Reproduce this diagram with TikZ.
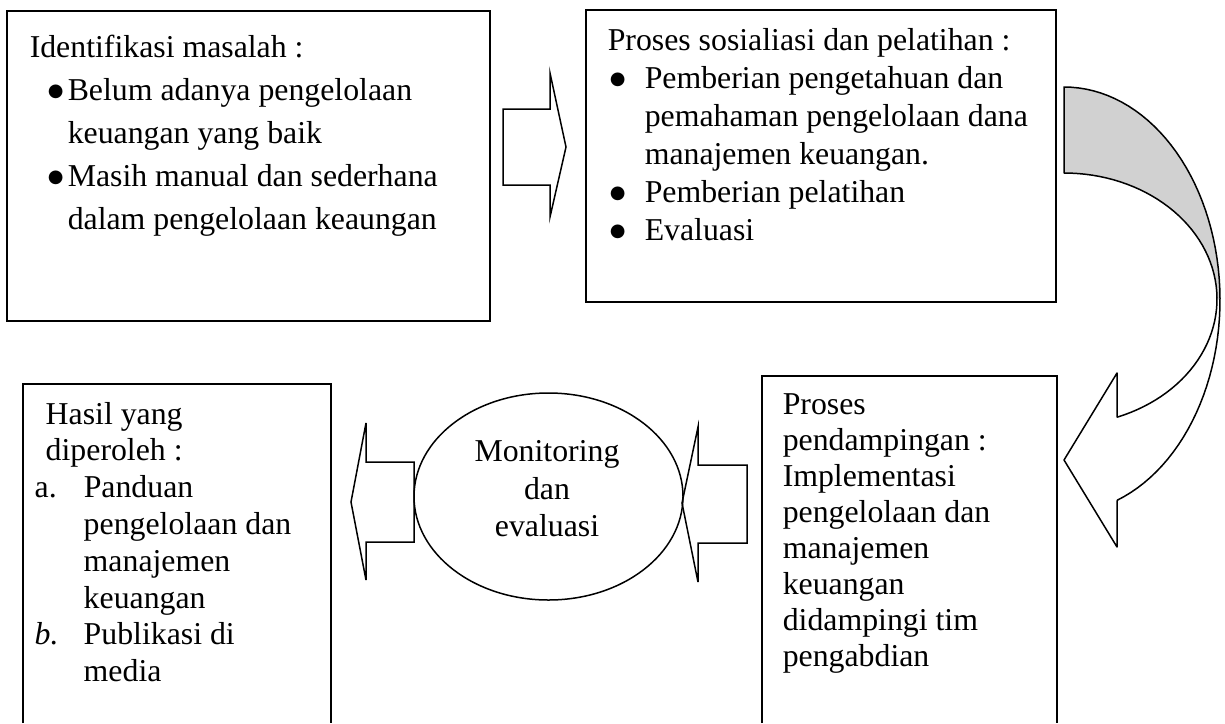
\documentclass[tikz,border=0pt]{standalone}
\usepackage{fontspec}
\setmainfont{Liberation Serif}
\newfontfamily\symbolfamily{DejaVu Sans}
\usetikzlibrary{shapes.geometric}
\definecolor{bandgray}{gray}{0.82}
\newcommand\dotmark{\raisebox{1.8pt}{\symbolfamily\fontsize{9pt}{9pt}\selectfont ●}}

\begin{document}
\begin{tikzpicture}[x=0.5pt, y=-0.5pt, line width=0.75pt,
  boxtext/.style={inner sep=0pt, anchor=base west},
  frame/.style={line width=0.8pt}]

  \useasboundingbox (0,0) rectangle (1225,723);

  % Box frames
  \draw[frame] (7,11) rectangle (490,321);
  \draw[frame] (586,10) rectangle (1056,302);
  \draw[frame] (23,723) -- (23,384) -- (331,384) -- (331,723);
  \draw[frame] (762,723) -- (762,376) -- (1057,376) -- (1057,723);

  % Box texts
  \node[boxtext] (masalah) at (29,57.4) {\parbox[t]{240pt}{\raggedright
    \fontsize{15.9pt}{21.5pt}\selectfont
    Identifikasi masalah :\\
    \hspace*{9pt}\makebox[10pt][l]{\dotmark}Belum adanya pengelolaan\\
    \hspace*{19pt}keuangan yang baik\\
    \hspace*{9pt}\makebox[10pt][l]{\dotmark}Masih manual dan sederhana\\
    \hspace*{19pt}dalam pengelolaan keaungan}};

  \node[boxtext] (sosialisasi) at (607,50) {\parbox[t]{240pt}{\raggedright
    \fontsize{15.9pt}{19pt}\selectfont
    Proses sosialiasi dan pelatihan :\\
    \hspace*{1pt}\makebox[17.5pt][l]{\dotmark}Pemberian pengetahuan dan\\
    \hspace*{18.5pt}pemahaman pengelolaan dana\\
    \hspace*{18.5pt}manajemen keuangan.\\
    \hspace*{1pt}\makebox[17.5pt][l]{\dotmark}Pemberian pelatihan\\
    \hspace*{1pt}\makebox[17.5pt][l]{\dotmark}Evaluasi}};

  \node[boxtext] (hasil) at (34,424) {\parbox[t]{160pt}{\raggedright
    \fontsize{15.9pt}{18.4pt}\selectfont
    \hspace*{5.5pt}Hasil yang\\
    \hspace*{5.5pt}diperoleh :\\
    \makebox[24.5pt][l]{a.}Panduan\\
    \hspace*{24.5pt}pengelolaan dan\\
    \hspace*{24.5pt}manajemen\\
    \hspace*{24.5pt}keuangan\\
    \makebox[24.5pt][l]{\textit{b.}}Publikasi di\\
    \hspace*{24.5pt}media}};

  \node[boxtext] (pendampingan) at (782,414) {\parbox[t]{140pt}{\raggedright
    \fontsize{15.9pt}{18.05pt}\selectfont
    Proses\\
    pendampingan :\\
    Implementasi\\
    pengelolaan dan\\
    manajemen\\
    keuangan\\
    didampingi tim\\
    pengabdian}};

  % Monitoring ellipse
  \node[draw, ellipse, minimum width=134.5pt, minimum height=103.5pt,
        inner sep=0pt] (monev) at (548.5,496.5) {};
  \node[inner sep=0pt, anchor=base] (monevtext) at (547,461.7)
    {\parbox[t]{120pt}{\centering\fontsize{15.9pt}{18.75pt}\selectfont
     Monitoring\\ dan\\ evaluasi}};

  % Block arrows
  \draw (503,109) -- (550,109) -- (550,73) -- (566,147) -- (550,217)
    -- (550,185) -- (503,185) -- cycle;
  \draw (414,462) -- (366,462) -- (366,423) -- (351,502) -- (366,580)
    -- (366,542) -- (414,542) -- cycle;
  \draw (747,465) -- (698,465) -- (698,427) -- (682,503) -- (698,582)
    -- (698,543) -- (747,543) -- cycle;

  % Curved arrow, back band shaded
  \fill[bandgray]
    plot[domain=90:0, samples=40] ({1064+156*cos(\x)},{300-213*sin(\x)})
    -- plot[domain=0:90, samples=40] ({1064+153*cos(\x)},{299-126*sin(\x)})
    -- cycle;
  \draw[line join=round] (1064,173) -- (1064,87)
    -- plot[domain=90:-70, samples=60] ({1064+156*cos(\x)},{300-213*sin(\x)})
    -- (1117,502) -- (1117,547) -- (1064,460) -- (1117,373) -- (1117,417)
    -- plot[domain=-69.5:90, samples=60] ({1064+153*cos(\x)},{299-126*sin(\x)})
    -- cycle;

\end{tikzpicture}
\end{document}
